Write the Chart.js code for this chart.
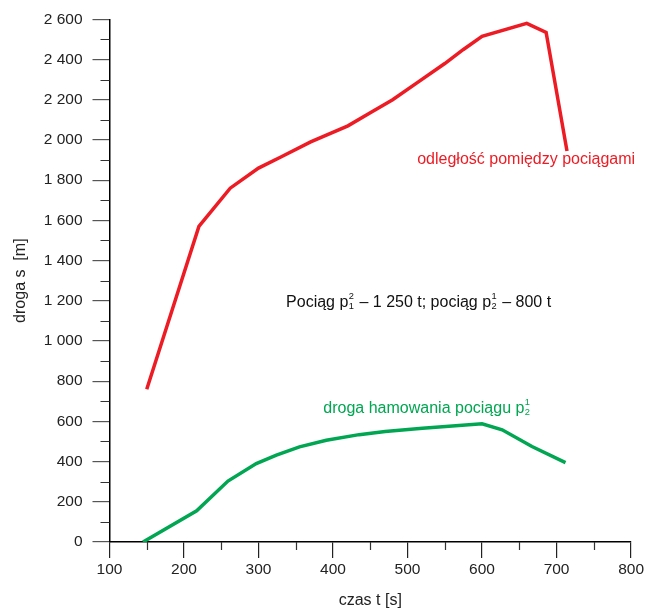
<!DOCTYPE html>
<html>
<head>
<meta charset="utf-8">
<script src="https://cdn.jsdelivr.net/npm/chart.js@4"></script>
<style>
  html, body { margin: 0; padding: 0; background: #fff; }
  #wrap { width: 646px; height: 610px; }
</style>
</head>
<body>
<div id="wrap"><canvas id="chart" width="646" height="610"></canvas></div>
<script>
// czas t [s] and droga s [m] for both curves
const distTime = [150, 220, 262, 300, 330, 370, 420, 450, 480, 515, 550, 575, 600, 660, 686, 714];
const distValues = [760, 1570, 1760, 1860, 1915, 1990, 2070, 2135, 2200, 2290, 2380, 2450, 2515, 2580, 2535, 1945];

const brakeTime = [145, 217, 259, 297, 324, 355, 391, 435, 470, 520, 600, 627, 667, 712];
const brakeValues = [0, 155, 303, 390, 432, 473, 506, 534, 550, 566, 588, 558, 475, 395];

const xTicks = [100, 800, 100];   // min, max, step
const yTicks = [0, 2600, 200];

const RED = '#ed1c24';
const GREEN = '#00a651';
const FONT = '"Liberation Sans", Arial, sans-serif';

function toPoints(xs, ys) {
    return xs.map((x, i) => ({ x: x, y: ys[i] }));
}

function spaced(v) {
    return String(v).replace(/\B(?=(\d{3})+(?!\d))/g, ' ');
}

// text pieces, {sup, sub} is a stacked index pair like p with 2 over 1
function drawRich(ctx, parts, x, y, color, size) {
    ctx.save();
    ctx.fillStyle = color;
    ctx.textBaseline = 'middle';
    ctx.textAlign = 'left';
    let cx = x;
    parts.forEach(p => {
        if (typeof p === 'string') {
            ctx.font = size + 'px ' + FONT;
            ctx.fillText(p, cx, y);
            cx += ctx.measureText(p).width;
        } else {
            ctx.font = (size * 0.58) + 'px ' + FONT;
            ctx.fillText(p.sup, cx + 0.5, y - size * 0.38);
            ctx.fillText(p.sub, cx + 0.5, y + size * 0.22);
            cx += Math.max(ctx.measureText(p.sup).width, ctx.measureText(p.sub).width) + 1.5;
        }
    });
    ctx.restore();
}

const extras = {
    id: 'extras',
    afterDraw(chart) {
        const ctx = chart.ctx;
        const xs = chart.scales.x, ys = chart.scales.y;
        const area = chart.chartArea;

        // minor ticks
        ctx.save();
        ctx.strokeStyle = '#333';
        ctx.lineWidth = 1.2;
        ctx.beginPath();
        for (let v = 100; v < 2600; v += 200) {
            const py = Math.round(ys.getPixelForValue(v)) + 0.5;
            ctx.moveTo(area.left - 9, py);
            ctx.lineTo(area.left, py);
        }
        for (let v = 150; v < 800; v += 100) {
            const px = Math.round(xs.getPixelForValue(v)) + 0.5;
            ctx.moveTo(px, area.bottom);
            ctx.lineTo(px, area.bottom + 8);
        }
        ctx.stroke();
        ctx.restore();

        drawRich(ctx, ['odległość pomiędzy pociągami'],
            xs.getPixelForValue(513), ys.getPixelForValue(1904), RED, 16);
        drawRich(ctx, ['Pociąg p', { sup: '2', sub: '1' }, ' – 1 250 t; pociąg p', { sup: '1', sub: '2' }, ' – 800 t'],
            xs.getPixelForValue(337), ys.getPixelForValue(1189), '#111', 16);
        drawRich(ctx, ['droga hamowania pociągu p', { sup: '1', sub: '2' }],
            xs.getPixelForValue(387), ys.getPixelForValue(662), GREEN, 16);
    }
};

const ctx = document.getElementById('chart');
new Chart(ctx, {
    type: 'line',
    data: {
        datasets: [{
            data: toPoints(distTime, distValues),
            borderColor: RED,
            borderWidth: 3.5,
            pointRadius: 0,
            tension: 0,
            fill: false
        }, {
            data: toPoints(brakeTime, brakeValues),
            borderColor: GREEN,
            borderWidth: 3.5,
            pointRadius: 0,
            tension: 0,
            fill: false
        }]
    },
    options: {
        responsive: false,
        animation: false,
        events: [],
        layout: { padding: { top: 19, right: 14, left: 0, bottom: 0 } },
        plugins: { legend: { display: false }, tooltip: { enabled: false } },
        scales: {
            x: {
                type: 'linear',
                min: xTicks[0],
                max: xTicks[1],
                afterFit: s => { s.height = 68; },
                border: { display: true, color: '#000', width: 1.5 },
                grid: { drawOnChartArea: false, drawTicks: true, tickLength: 16, color: '#222', lineWidth: 1.2 },
                ticks: {
                    stepSize: xTicks[2],
                    padding: 2,
                    color: '#222',
                    font: { family: FONT, size: 15.5 },
                    maxRotation: 0
                },
                title: {
                    display: true,
                    text: 'czas t [s]',
                    color: '#222',
                    font: { family: FONT, size: 16 },
                    padding: { top: 0, bottom: 0 }
                }
            },
            y: {
                min: yTicks[0],
                max: yTicks[1],
                afterFit: s => { s.width = 109.5; },
                border: { display: true, color: '#000', width: 1.5 },
                grid: { drawOnChartArea: false, drawTicks: true, tickLength: 17, color: '#555', lineWidth: 1.2 },
                ticks: {
                    stepSize: yTicks[2],
                    padding: 10,
                    color: '#222',
                    font: { family: FONT, size: 15.5 },
                    callback: v => spaced(v)
                },
                title: {
                    display: true,
                    text: 'droga s  [m]',
                    color: '#222',
                    font: { family: FONT, size: 16 },
                    padding: { top: 11, bottom: 0 }
                }
            }
        }
    },
    plugins: [extras]
});
</script>
</body>
</html>
